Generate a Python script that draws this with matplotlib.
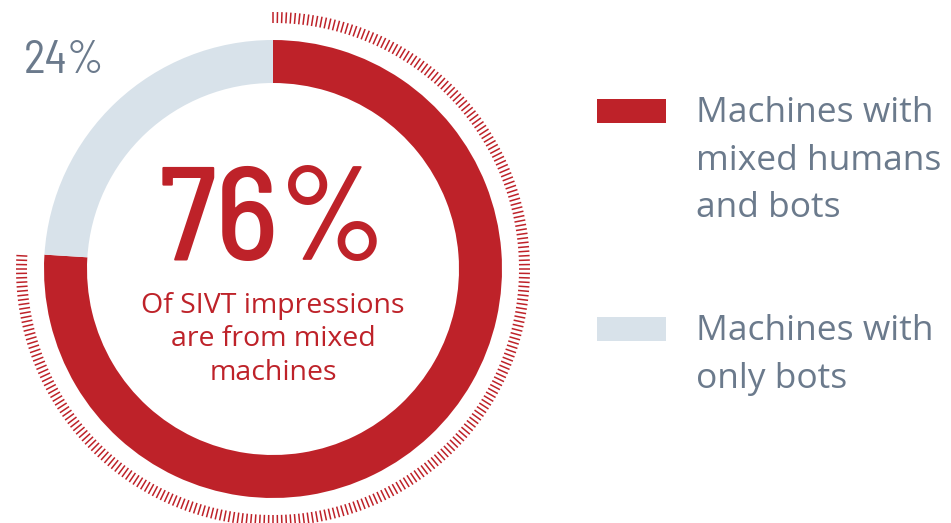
import matplotlib
matplotlib.use('Agg')
import matplotlib.pyplot as plt
import numpy as np

# data
labels = ['Machines with\nmixed humans\nand bots', 'Machines with\nonly bots']
shares = [76, 24]
colors = ['#BE2229', '#D8E2EA']
big_label = '76%'
sub_label = 'Of SIVT impressions\nare from mixed\nmachines'
small_label = '24%'

W, H = 951, 523
fig = plt.figure(figsize=(W / 100, H / 100), dpi=100)
ax = fig.add_axes([0, 0, 1, 1])

cx, cy = 273, H - 269
R = 229
ax.pie(shares, colors=colors, startangle=90, counterclock=False,
       radius=R, center=(cx, cy), frame=True,
       wedgeprops=dict(width=43, linewidth=0))
ax.set_xlim(0, W)
ax.set_ylim(0, H)
ax.set_aspect('equal')
ax.axis('off')

# hatched ring along the red share
span = shares[0] / sum(shares) * 360
angs = np.deg2rad(90 - np.arange(0, span + 0.01, 1.0))
r0, r1 = 246, 257
for a in angs:
    ax.plot([cx + r0 * np.cos(a), cx + r1 * np.cos(a)],
            [cy + r0 * np.sin(a), cy + r1 * np.sin(a)],
            color=colors[0], lw=1.1, solid_capstyle='butt')

red = colors[0]
grey = '#6B7A8C'
din = ['Barlow Semi Condensed', 'DejaVu Sans']
body = ['Open Sans', 'DejaVu Sans']

ax.text(273, H - 260, big_label, color=red, fontsize=96, family=din,
        weight=500, ha='center', va='baseline')
for i, line in enumerate(sub_label.split('\n')):
    ax.text(273, H - 313 - 33.5 * i, line, color=red, fontsize=20.5,
            family=body, ha='center', va='baseline')
ax.text(24, H - 73, small_label, color=grey, fontsize=33, family=din,
        weight=400, ha='left', va='baseline')

# legend
ytops = [H - 99, H - 317]
for lab, col, yt in zip(labels, colors, ytops):
    ax.bar(597, 24, width=69, bottom=yt - 24, align='edge', color=col, lw=0)
    for i, line in enumerate(lab.split('\n')):
        ax.text(696, yt - 23 - 47.5 * i, line, color=grey, fontsize=25.5,
                family=body, ha='left', va='baseline')

plt.savefig('out.png', dpi=100)
